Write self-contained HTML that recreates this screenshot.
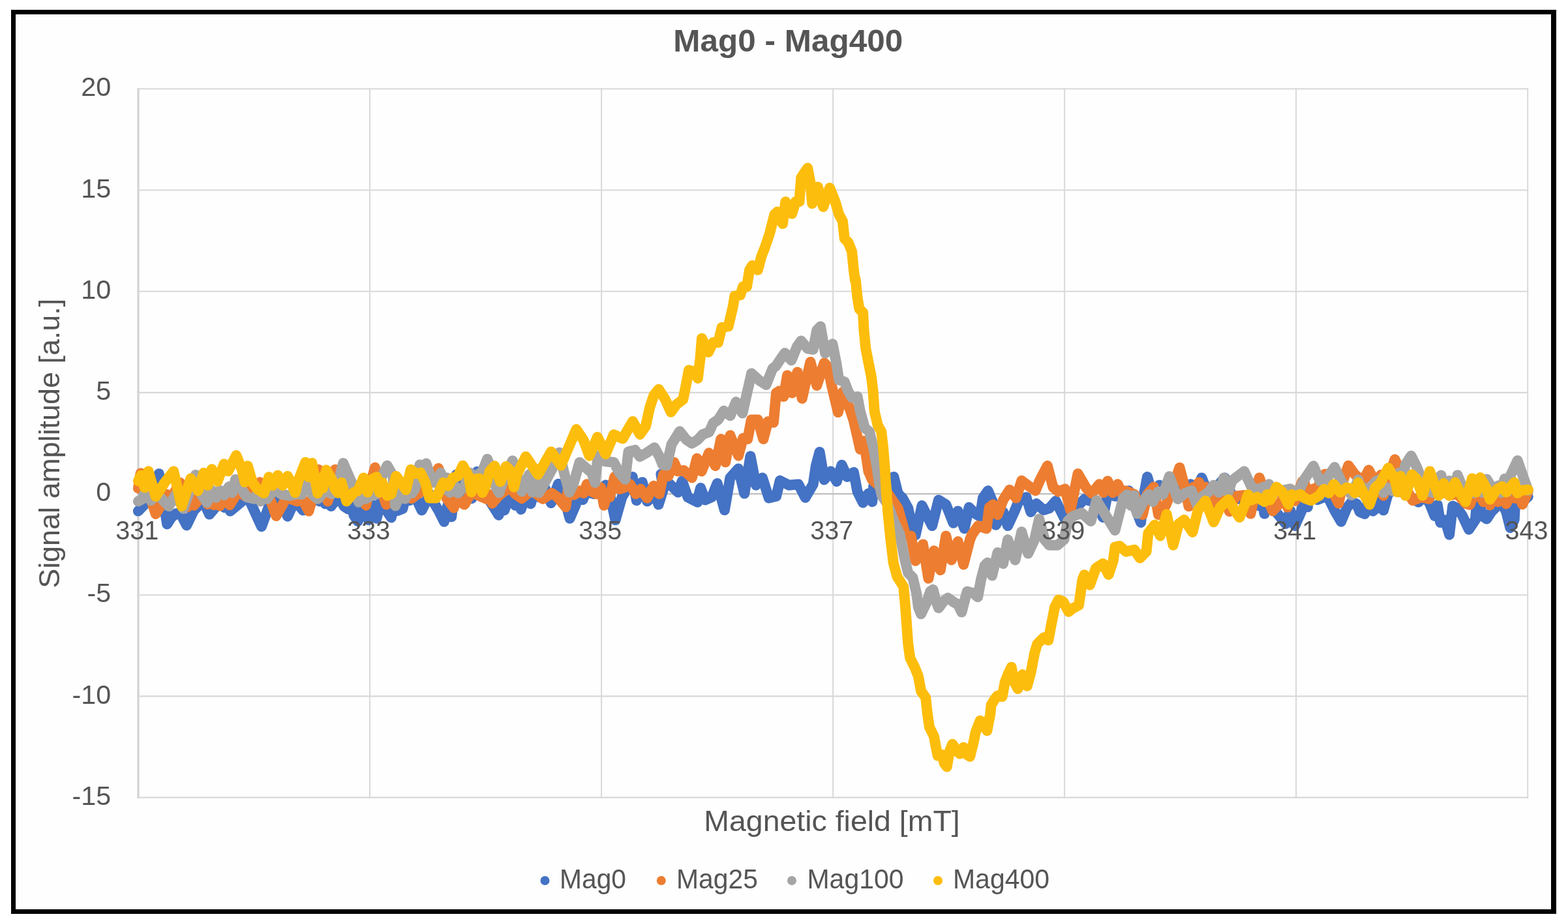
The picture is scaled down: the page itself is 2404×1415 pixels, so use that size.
<!DOCTYPE html>
<html lang="en"><head><meta charset="utf-8"><title>Mag0 - Mag400</title>
<style>html,body{margin:0;padding:0;background:#fff;}body{width:2404px;height:1415px;overflow:hidden;}svg{display:block;}text{font-family:"Liberation Sans",sans-serif;fill:#555555;}</style>
</head><body>
<svg width="2404" height="1415" viewBox="0 0 2404 1415">
<rect x="0" y="0" width="2404" height="1415" fill="#fff"/>
<rect x="17" y="15" width="2369" height="1386" fill="#000"/>
<rect x="24" y="22" width="2354" height="1372" fill="#fefefe"/>
<g><line x1="212.0" y1="135" x2="212.0" y2="1224" stroke="#D2D2D2" stroke-width="3.2"/><line x1="567.0" y1="135" x2="567.0" y2="1224" stroke="#D9D9D9" stroke-width="2.0"/><line x1="922.1" y1="135" x2="922.1" y2="1224" stroke="#D9D9D9" stroke-width="2.0"/><line x1="1277.1" y1="135" x2="1277.1" y2="1224" stroke="#D9D9D9" stroke-width="2.0"/><line x1="1632.1" y1="135" x2="1632.1" y2="1224" stroke="#D9D9D9" stroke-width="2.0"/><line x1="1987.1" y1="135" x2="1987.1" y2="1224" stroke="#D9D9D9" stroke-width="2.0"/><line x1="2342.2" y1="135" x2="2342.2" y2="1224" stroke="#D9D9D9" stroke-width="2.0"/><line x1="210" y1="136.3" x2="2343.2" y2="136.3" stroke="#D8D8D8" stroke-width="2.1"/><line x1="210" y1="291.5" x2="2343.2" y2="291.5" stroke="#D8D8D8" stroke-width="2.1"/><line x1="210" y1="446.7" x2="2343.2" y2="446.7" stroke="#D8D8D8" stroke-width="2.1"/><line x1="210" y1="601.9" x2="2343.2" y2="601.9" stroke="#D8D8D8" stroke-width="2.1"/><line x1="210" y1="757.1" x2="2343.2" y2="757.1" stroke="#BFBFBF" stroke-width="2.1"/><line x1="210" y1="912.2" x2="2343.2" y2="912.2" stroke="#D8D8D8" stroke-width="2.1"/><line x1="210" y1="1067.4" x2="2343.2" y2="1067.4" stroke="#D8D8D8" stroke-width="2.1"/><line x1="210" y1="1222.6" x2="2343.2" y2="1222.6" stroke="#D8D8D8" stroke-width="2.1"/></g>
<polyline points="211.9,783.6 225,769.8 243.7,726.2 256.2,803.5 262.4,793.5 269.9,787.3 276.1,786.1 286.1,805.4 297.3,782.3 304.8,774.8 312.3,769.8 321.1,788.6 334.8,772.3 339.3,758.8 343.9,778 348.4,759.4 352.9,783.6 371,768.6 376,757.9 381,763.6 400.9,807.3 414.7,769.8 421.5,757.9 428.4,762.3 440.9,791.7 452.1,767.3 464.6,782.3 480.8,767.3 485.4,758.1 490,768.6 494.4,758.3 498.8,772.4 503.1,758.7 507.5,776.1 518.7,761.1 527.4,776.1 533.7,780.4 538,763.1 542.4,789.8 548.7,799.2 556.8,776.2 564.9,797.3 571.1,774 577.4,794.8 583.6,769.8 589.8,778.6 599.8,793.5 604.8,766.2 609.8,782.9 617.3,779.8 622.3,758.7 627.3,767.3 632.3,764.8 637.3,762.3 646.6,782.3 654.7,766.1 659.7,758.1 664.7,769.8 672.2,782.3 680.9,799.8 686.5,774 692.2,792.3 699.7,727.4 709.6,757.4 716.5,760.8 723.4,764.2 731.5,723 739.6,747.4 752.1,769.8 764.6,789.8 769,764 773.3,782.3 778.3,768.6 784.5,764.8 790,774.8 794.4,759.1 798.7,781 806.2,759 813.7,772.3 817.4,758.6 822.4,760.5 827.4,762.3 831.8,756 836.2,749.8 844.9,771.1 856.1,741.7 864.9,762.3 873.6,794.8 882.3,774.8 886.1,762.3 893.6,766.1 898.6,753.6 904.8,755.5 911,757.3 915.4,753.5 919.8,749.8 924.1,756 928.5,743.6 936,762.3 943.5,797.3 953.5,762.3 961,749.8 969.7,731.1 975.9,767.3 984.7,739.2 992.2,768.6 999.6,762.3 1004.6,758.1 1009.6,773.5 1017.1,749.8 1013.4,726.8 1024.6,739.9 1039.6,754.8 1045.8,737.4 1054.6,762.3 1069.5,769.8 1068.5,769.3 1074.1,748.1 1081.2,766.5 1091.1,762.2 1099.6,741 1110.9,782 1119.4,732.5 1132.1,718.4 1141.3,756.6 1150.5,699.3 1159,743.8 1168.9,732.5 1178.8,763.6 1190.1,760.8 1195.8,736.8 1209.9,743.8 1224.1,742.4 1234.7,762.9 1246.7,742.4 1250.9,714.1 1256.6,692.9 1263.7,735.4 1273.6,722.6 1282.8,738.2 1290.5,712.7 1299,731.1 1308.9,724 1314.6,753.7 1323.1,770.7 1331.5,756.6 1337.2,769.3 1339.3,745.3 1370.4,731.1 1376.8,756.6 1383.8,763.6 1392.3,779.2 1398,806.1 1403.6,820.2 1413.5,775 1429.1,806.1 1439,766.5 1450.3,773.5 1461.6,801.8 1468.7,783.4 1478.6,810.3 1485.7,777.8 1495.6,787.7 1502.6,791.9 1506.9,763.6 1514.7,752.3 1522.4,770.7 1526.7,804.7 1538,784.9 1545.1,806.1 1555,784.9 1562,767.9 1573.4,762.2 1580.4,784.9 1588.9,772.1 1600.2,782 1608.7,779.2 1618.6,767.9 1627.1,784.9 1634.2,799 1644.1,784.9 1662.5,765.1 1680,770.7 1691.1,793.2 1698.2,756.5 1703.8,758.6 1709.5,760.7 1715.2,760.7 1720.8,760.7 1725.8,756.5 1730.7,752.2 1739.2,774.9 1749.1,801 1753.3,760.7 1759,731 1767.5,760.7 1777.4,743.7 1787.3,760.7 1794.3,757.2 1801.4,753.6 1805.7,750.1 1809.9,746.6 1818.4,760.7 1825.5,742.3 1829.8,756.1 1834,753.6 1842.4,732.4 1850.9,753.6 1858,750.1 1865.1,746.6 1877.8,732.4 1889.1,760.7 1894.8,762.9 1900.4,765 1907.5,762.9 1914.6,760.7 1928.7,774.9 1933.7,759.4 1938.6,787.6 1943.5,759.4 1948.5,774.9 1959.8,789 1971.1,803.1 1978.2,782.5 1985.3,806 1994.9,784.8 1999.9,759.4 2004.9,777.3 2006.2,754.8 2013.1,760.5 2019.9,766.1 2027.4,763 2034.9,759.8 2047.4,784.8 2056.1,799.8 2064.8,778.6 2072.3,769.8 2079.8,772.3 2084.8,784.8 2092.3,787.9 2098.6,763.7 2104.8,783.5 2112.3,777.3 2116.7,759.3 2121,782.3 2127.2,759.8 2134.7,747.4 2140.9,750.5 2147.2,753.6 2153.4,756.7 2159.7,759.8 2167.2,764.8 2174.7,769.8 2179.6,764.8 2184.6,759.8 2192.1,772.3 2199.6,791 2203.9,774 2208.3,801 2215.8,797.3 2222.1,819.7 2227.2,775.7 2234.6,779.4 2242.1,790.6 2252,811.7 2262,796.8 2263.2,781.9 2267.6,764.2 2271.9,790.6 2279.4,795.6 2286.8,784.4 2294.3,776.9 2298.7,758.7 2303,771.9 2309.2,784.4 2315.5,809.2 2321.7,796.8 2322.9,774.4 2328.5,758.5 2334.1,769.4 2338.4,765.4 2342.8,761.4" fill="none" stroke="#4472C4" stroke-width="16" stroke-linejoin="round" stroke-linecap="round"/>
<polyline points="211.9,748.6 215.6,725.5 225,744.9 238.7,787.9 249.9,769.8 256.1,758 262.4,763.6 276.1,739.9 287.4,777.3 292.4,758.9 297.3,774.8 304.8,766.1 311.7,758.3 318.6,773 323.3,758.7 328,774.2 332.6,758.8 337.3,775.5 344.8,758.8 352.3,774.2 366,751.7 370.4,755.8 374.7,759.9 379.7,755.5 384.7,751.1 391.5,755.8 398.4,739.3 412.2,759.9 423.4,791.1 439.6,762.3 447.7,765.5 455.8,768.6 460.2,758.1 464.6,767.3 473.3,783.6 480.8,757.4 488.3,719.9 495,747.4 502.5,768.6 508.7,744.9 513.7,719.9 520,747.4 527.4,757.4 532.4,756.1 537.4,754.9 542.4,750.5 547.4,746.1 554.9,764.8 561.1,774.8 567.4,744.9 574.9,716.8 582.3,744.9 592.3,773.6 602.3,757.4 607.3,754.2 612.3,751.1 617.3,756.1 622.3,761.1 626.6,762.7 631,764.2 635.4,760.8 639.8,757.4 646,753.6 652.2,749.9 662.2,734.9 672.2,718 679.7,744.9 684.7,763.6 695.9,778.6 700.3,758.7 704.7,768.6 712.1,773.6 719.6,759.9 727.1,756.7 732.1,758.9 737.1,761.1 741.5,763 745.8,764.8 750.2,758.1 754.6,771.7 759.6,765.8 764.6,759.9 769.5,756.1 774.5,752.4 782,747.4 786,752.3 790,757.3 795,760.8 800,764.2 806.2,758.9 812.4,753.6 816.8,754.9 821.2,756.1 826.8,760.5 832.4,764.8 839.2,760.5 846.1,756.1 850.5,759.2 854.9,762.3 867.4,777.3 871.1,748.6 875.5,753.6 879.8,758.6 884.8,755.5 889.8,752.3 894.8,756 899.8,742.3 907.3,753.6 914.8,757.3 921,747.3 926,774.8 930.4,758.2 934.7,762.3 942.2,731.1 949.7,749.8 957.2,747.3 965.9,742.3 974.7,757.3 982.2,749.8 992.2,763.6 1002.1,744.8 1010.9,757.3 1017.1,727.4 1024.6,729.9 1033.3,708.7 1039.6,722.4 1048.3,721.1 1060.8,732.4 1068.5,702.8 1075.6,722.6 1086.9,694.4 1096.8,714.2 1105.3,673.1 1112.3,708.5 1119.4,667.5 1132.1,698.6 1139.2,671.7 1146.3,673.1 1151.9,643.4 1161.8,643.4 1170.3,673.1 1177.4,646.3 1185.9,647.7 1190.1,602.4 1194.4,599.6 1201.4,608.1 1207.1,575.4 1214.2,602.4 1222.6,570.4 1229.7,610.9 1242.4,554.9 1252.3,591.1 1263.7,556.3 1269.3,562.6 1275,590.9 1284.9,632.1 1291.9,601 1303.3,627.9 1308.9,644.9 1318.8,688.7 1324.5,676 1331.5,722.6 1337.2,735.4 1361.2,756.6 1376.8,779.2 1382.4,799 1388.1,820.2 1396.6,821.6 1403.6,859.8 1415,834.4 1423.4,886.7 1431.9,844.3 1441.8,874 1450.3,821.6 1458.8,858.4 1468.7,830.1 1477.2,865.5 1487.1,827.3 1489.9,820.2 1499.8,806.1 1512.5,810.3 1516.8,777.8 1522.4,773.5 1529.5,789.1 1538,766.5 1547.9,750.9 1557.8,763.6 1566.3,736.8 1577.6,745.3 1587.5,752.3 1594.6,735.4 1605.9,714.1 1614.4,746.7 1622.9,753.7 1632.8,749.5 1641.2,782 1652.6,726.2 1665.3,748.1 1669.5,752.4 1673.8,756.6 1685.5,742.3 1691.8,755.3 1698.2,737.4 1706,755.3 1713.7,742.3 1719.4,756 1725.1,752.2 1732.2,755 1739.2,757.9 1747.7,774.9 1751.9,789 1759,757.9 1764,752.2 1768.9,746.6 1776,789 1787.3,774.9 1795.8,753.6 1808.5,716.9 1815.6,743.7 1822.6,776.3 1829.7,746.6 1834,755.6 1838.2,739.5 1843.2,755.6 1848.1,746.6 1858,763.5 1865.1,774.9 1872.1,755.1 1884.9,784.1 1893.4,760.7 1900.5,760 1907.5,759.3 1917.4,787.6 1924.5,753.6 1930.8,732.4 1938.6,753.6 1951.3,783.3 1964.1,769.2 1969,758.6 1974,777.7 1979.7,758.6 1985.3,767.8 1996.6,738.1 1999.9,739.9 2004.9,755.9 2009.9,751.1 2014.9,749.2 2019.9,747.4 2031.1,726.8 2039.9,747.4 2052.3,771.7 2059.8,734.9 2067.3,713.7 2077.3,727.4 2083.5,732.4 2089.8,737.4 2098.5,720.5 2107.3,737.4 2112.2,754.6 2117.2,728 2121,759.8 2128.5,734.9 2138.5,704.3 2147.2,722.4 2154.7,747.4 2165.9,767.3 2172.2,764.8 2178.4,762.3 2184.7,763.5 2190.9,764.8 2199.6,747.4 2204.6,755.7 2209.6,741.1 2215.8,756 2222.1,753.6 2222.2,759.5 2228.4,758.2 2234.6,757 2247.1,771.9 2253.3,773.8 2259.5,759.5 2265.7,753.3 2274.4,769.4 2279.4,758.5 2284.4,774.4 2290.6,758.5 2296.8,769.4 2303,758.4 2309.2,772.5 2316.1,758.1 2322.9,763.8 2328.5,758.1 2334.1,773.2 2342.8,753.3" fill="none" stroke="#ED7D31" stroke-width="16" stroke-linejoin="round" stroke-linecap="round"/>
<polyline points="211.9,768.6 218.7,764.8 223.7,749.9 231.2,767.3 236.2,762.3 241.2,757.4 258.7,776.1 269.9,757.4 281.1,779.8 299.8,728 308.6,757.4 317.3,770.5 324.8,751.7 331,763 337.3,751.7 343.5,759.2 351,746.1 356,755.4 361,734.9 368.5,747.4 378.5,762.3 384.1,763.5 389.7,764.8 394.7,758 399.7,768.6 404.7,758 409.7,764.8 419.6,749.9 425.2,753.6 430.9,757.4 437.1,758.6 443.4,759.9 449.6,758.6 455.8,757.4 462.1,758 470.8,734.9 478.3,757.4 482.6,761.1 487,764.8 490,762.3 497.5,751.1 503.1,754.2 508.7,757.4 513.1,751.1 517.5,744.9 526.2,709.9 534.9,729.9 543.7,749.9 549.9,769.8 554.9,758 559.9,764.8 564.9,762.3 569.9,759.9 577.4,757.4 584.8,732.4 593.6,713.7 602.3,728.7 606.1,775.5 613.5,758.3 621,764.8 627.3,744.9 631.6,756 636,749.9 643.5,712.4 648.5,733.5 653.5,710.6 662.2,737.4 667.2,739.9 675.9,724.9 680.3,750.6 684.7,732.4 689.7,754.9 694.7,739.9 702.2,756.1 707.2,750.5 712.1,744.9 720.9,724.9 727.1,748.1 733.4,727.4 739.6,722.4 747.1,703.7 754.6,722.4 759.6,744.9 765.2,755.5 770.8,739.9 778.3,722.4 785.8,706.2 792.5,724.9 800,753.6 811.2,727.4 816.2,754.4 821.2,737.4 826.2,755.5 831.2,747.3 839.9,731.1 847.4,717.4 857.4,693.7 866.1,729.9 873,754.8 879.8,739.9 888.6,708.7 898.6,717.4 907.3,724.9 912.3,739.9 916.7,698.7 927.3,707.4 941,708.7 949.7,724.9 958.5,734.9 963.5,692.4 973.4,689.9 980.9,699.9 992.2,693.7 1003.4,686.2 1010.9,699.9 1015.9,712.4 1022.1,713.6 1029.6,681.2 1042.1,661.2 1052.3,674.1 1060.8,679.7 1069.8,674.1 1077.3,666 1087.3,662.2 1093.5,648.5 1101,643.5 1109.7,629.8 1119.7,637.3 1128.4,616.1 1138.4,633.5 1145.9,599.8 1152.2,572.4 1164.6,583.6 1174.6,589.9 1184.6,564.9 1189.6,561.2 1197.1,549.9 1203.3,541.2 1213.3,552.4 1222,531.2 1228.3,522.5 1238.2,534.4 1246.7,535.8 1252.3,506.1 1258,500.4 1265.1,541.4 1276.4,527.3 1282,555.6 1286.3,582.4 1294.8,585.3 1300.4,600 1306.1,609.5 1314.6,608.1 1318.8,630.7 1325.9,656.2 1333,661.8 1339.3,687.3 1344.3,715.6 1348.5,743.9 1352.1,760 1361.2,773.5 1370.4,799 1379.6,818.8 1386.7,855.6 1392.3,878.4 1399.4,885.5 1405.1,909.5 1407.9,930.7 1412.1,941.3 1420.6,923.6 1426.3,906.7 1430.5,903.8 1434.8,920.8 1439,932.1 1447.5,920.8 1453.1,916.6 1463,923.6 1468.7,926.5 1474.4,938.5 1480,916.6 1482.8,906.7 1492.7,909.5 1499.1,915.2 1504.1,888.3 1509.7,867.1 1514,862.6 1521,882.4 1529.5,847.1 1538,864.1 1545.1,827.3 1556.4,858.4 1566.3,815.3 1576.2,848.5 1586.1,827.3 1593.2,795.5 1601.6,827.3 1608.7,835.8 1621.4,835.8 1631.3,827.3 1637,799 1644.1,791.9 1658.2,786.3 1672.4,799 1681.2,767.1 1709.5,813 1722.2,763.5 1727.8,758.2 1733.5,774.9 1738.5,759.4 1743.4,787.6 1756.2,763.5 1761.8,757.9 1767.5,769.2 1776,753.6 1783,757.9 1792.9,730.3 1805.7,765 1810.7,760.8 1815.6,756.5 1821.2,754.4 1826.9,752.2 1835.4,774.9 1843.9,760.7 1848.8,757.2 1853.8,753.6 1860.8,743.7 1868.6,755.1 1876.4,732.4 1882.8,754.8 1889.1,736.7 1907.5,722.5 1918.8,746.6 1923.8,748.7 1928.7,750.8 1933,748.7 1937.2,746.5 1941.5,755.7 1945.7,742.3 1951.3,756.1 1957,753.6 1962.3,752.5 1967.6,751.5 1972.9,750.5 1978.2,749.4 1983.8,753 1989.5,756.5 1999.9,734.9 2013.7,714.3 2023.6,737.4 2029.9,739.9 2046.1,716.2 2056.1,737.4 2072.3,759.2 2082.3,735.5 2086.7,755.4 2091,747.4 2098.5,751.1 2109.8,737.4 2116,734.9 2121,755.4 2126,747.4 2131,750.2 2136,753 2144.7,724.9 2149.7,740.6 2154.7,712.4 2163.4,698.7 2172.2,716.2 2179.6,734.9 2185.2,755.4 2190.9,747.4 2196.5,755.4 2202.1,734.9 2209.6,728.6 2214.6,754.7 2219.6,739.9 2222.2,737.1 2228.4,754.6 2234.6,728.4 2242.1,747.1 2247.7,748.3 2253.3,749.5 2259.5,755.8 2265.7,740.8 2272.6,755.1 2279.4,734.6 2290.6,753.3 2296.8,744.6 2301.8,755.2 2306.7,734 2311.1,753.8 2315.5,729.6 2326.6,706 2336.6,734.6 2342.8,752" fill="none" stroke="#A5A5A5" stroke-width="16" stroke-linejoin="round" stroke-linecap="round"/>
<polyline points="211.9,737.4 216.2,728.7 221.8,747.5 227.5,722.4 238.7,761.1 252.4,739.9 266.1,722.4 278.6,776.1 292.3,733.6 303.6,752.4 312.3,724.9 318.6,744.1 324.8,719.3 333.5,738 343.5,711.2 349.8,722.4 362.2,698.1 371,719.9 375.4,739.1 379.7,714.3 387.2,739.9 394.7,749.9 399.7,753 404.7,756.1 412.2,731.2 417.8,744.3 425.9,728.7 433.4,744.3 440.9,729.9 448.3,744.9 452.7,755.4 457.1,737.4 468.3,708.7 473.3,731.3 478.3,709.9 487,756.1 490,732.4 495,748.5 500,720.5 508.7,734.9 513.7,749.9 518.7,755.8 523.7,739.9 531.2,768.6 542.4,754.9 548.7,752.4 557.4,732.4 563.6,754.7 569.9,734.9 577.4,731.2 581.8,754.9 586.1,739.9 593.6,759.9 599.8,757.4 607.3,729.9 614.8,739.9 622.3,751.1 629.8,719.9 637.3,726.2 644.7,724.9 652.2,739.9 658.5,763.6 663.5,763.6 668.5,763.6 679.7,739.9 687.2,744.9 694.7,732.4 702.2,729.9 709.6,713.7 718.4,729.9 722.8,754.4 727.1,734.9 734.6,733.6 739.6,755.2 744.6,744.9 750.8,722.4 758.3,714.3 767,738.6 775.8,714.9 783.3,722.4 787.9,746.9 792.5,727.4 806.2,699.9 824.9,727.4 844.9,692.4 859.9,713.6 883.6,658.1 894.8,675 903.5,698.7 916,670 928.5,696.2 941,666.2 954.7,672.5 964.7,655 970,646 981.2,666 989.9,653.5 996.2,624.8 1002.4,606.1 1009.9,596.7 1019.9,612.3 1028.6,631.7 1037.3,619.8 1047.3,612.3 1052.3,587.4 1056.1,567.4 1064.8,569.9 1069.8,579.9 1073.5,549.9 1076,518.7 1086,539.9 1093.5,525 1101,525 1106.7,501.8 1116.6,500.4 1123.6,470.7 1126.5,453.7 1135,452.3 1139.2,439.6 1144.9,439.6 1149.1,414.1 1153.3,407.1 1161.8,413.9 1167.5,392.6 1173.1,378.5 1180.2,357.3 1187.3,329 1191.5,324.8 1200,343.1 1204.3,309.2 1214.2,327.6 1219.8,309.2 1225.5,309.2 1228.3,272.4 1238.2,257.6 1242.4,279.5 1245.3,312 1253.8,286.6 1262.2,317 1272.1,288 1280.6,309.2 1286.3,329 1291.9,338.9 1294.8,365.8 1300.4,371.4 1306.1,385.6 1308.9,413.9 1311,430 1311.7,428.3 1314.6,456.6 1317.4,473.5 1323.1,479.2 1324.5,506.1 1327.3,534.4 1331.5,555.6 1335.8,576.8 1338.6,600 1340.7,630.7 1345.7,651.9 1351.3,661.8 1354.2,687.3 1357,722.6 1359.1,760 1358.4,742.4 1361.2,784.9 1365.5,827.3 1369.7,862.6 1375.4,883.9 1385.3,899.6 1388.1,930.7 1390.2,959 1392.3,987.3 1395.2,1008.5 1402.2,1022.6 1407.9,1036.8 1412.1,1059.5 1419.2,1069.4 1422,1094.9 1424.9,1114.7 1431.9,1128.8 1434.8,1144.4 1437.6,1158.5 1444.7,1157.1 1447.5,1169.8 1451.7,1175.5 1456,1151.4 1460.2,1140.8 1467.3,1151.4 1471.5,1155.7 1477.2,1145.8 1482.8,1157.1 1487.1,1159.9 1492.7,1137.3 1495.6,1123.1 1502.6,1104.8 1508.3,1109 1513.3,1120.3 1518.2,1094.9 1519.6,1080.7 1526.7,1069.4 1529.5,1066.6 1536.6,1068 1540.8,1045.4 1546.5,1031.2 1550.7,1022.7 1555,1045.4 1560.6,1056 1567.7,1034 1574.8,1051.7 1580.4,1031.2 1586.1,1001.4 1590.3,987.3 1600.2,977.4 1607.3,981.6 1611.5,959 1617.2,930.7 1622.9,919.4 1629.9,922.2 1638.4,937.8 1645.5,932.1 1654,927.9 1659.6,888.3 1662.5,881.2 1670.9,896.8 1680,871.3 1691.1,864 1699.6,880.9 1706.7,859.7 1709.5,838.5 1716.6,837.1 1726.5,845.6 1739.2,842.7 1747.7,855.5 1757.6,845.6 1760.4,817.3 1770.3,804.6 1778.8,821.5 1788.7,788.3 1798.6,835.7 1807.1,803.1 1815.6,796.8 1828.3,815.9 1836.8,781.9 1848.1,767.8 1860.8,800.3 1870.7,777.7 1883.5,765.7 1891.9,780.5 1900.4,793.2 1908.9,772 1913.5,758.3 1918.1,767 1922.7,764.6 1927.3,762.1 1932.9,765.7 1938.6,769.2 1942.8,758.1 1947.1,766.4 1957,746.6 1961.2,750.1 1965.5,753.6 1975.4,773.4 1980.3,758 1985.3,760.7 1989.5,759.3 1993.8,757.9 1999.9,763.6 2004.9,765.5 2009.9,767.3 2016.2,763.5 2022.4,759.8 2029.9,749.9 2037.4,755.9 2044.9,742.4 2049.9,748.6 2054.8,754.8 2059.8,751.1 2064.8,747.4 2072.3,749.9 2077.3,755.8 2082.3,739.9 2092.3,759.8 2099.8,773.6 2108.5,747.4 2116,741.1 2128.5,717.4 2138.5,734.9 2142.8,754.4 2147.2,729.9 2154.7,759.8 2164.7,727.4 2172.2,734.9 2180.9,759.8 2192.1,722.4 2200.9,747.4 2205.9,759.8 2213.3,741.1 2222.1,759.8 2222.2,747.1 2226.6,755.6 2230.9,739.6 2240.8,759.5 2247.1,769.4 2257,733.4 2263.2,754.6 2269.4,732.1 2278.1,747.1 2284.4,765.7 2294.3,750.8 2298.7,748.3 2303,745.8 2309.2,754.5 2321.7,739.6 2326.6,755.9 2331.6,752 2337.2,751.4 2342.8,750.8" fill="none" stroke="#FDBD0C" stroke-width="16" stroke-linejoin="round" stroke-linecap="round"/>
<text x="1208.3" y="79.3" font-size="49" font-weight="bold" text-anchor="middle" textLength="352" lengthAdjust="spacingAndGlyphs">Mag0 - Mag400</text>
<text x="170.2" y="147.4" font-size="41" text-anchor="end" textLength="46" lengthAdjust="spacingAndGlyphs">20</text>
<text x="170.2" y="302.6" font-size="41" text-anchor="end" textLength="46" lengthAdjust="spacingAndGlyphs">15</text>
<text x="170.2" y="457.8" font-size="41" text-anchor="end" textLength="46" lengthAdjust="spacingAndGlyphs">10</text>
<text x="170.2" y="613.0" font-size="41" text-anchor="end" textLength="23" lengthAdjust="spacingAndGlyphs">5</text>
<text x="170.2" y="768.2" font-size="41" text-anchor="end" textLength="23" lengthAdjust="spacingAndGlyphs">0</text>
<text x="170.2" y="923.4" font-size="41" text-anchor="end" textLength="36.6" lengthAdjust="spacingAndGlyphs">-5</text>
<text x="170.2" y="1078.5" font-size="41" text-anchor="end" textLength="59.6" lengthAdjust="spacingAndGlyphs">-10</text>
<text x="170.2" y="1233.7" font-size="41" text-anchor="end" textLength="59.6" lengthAdjust="spacingAndGlyphs">-15</text>
<text x="210.2" y="826.6" font-size="40.5" text-anchor="middle" textLength="66" lengthAdjust="spacingAndGlyphs">331</text>
<text x="565.2" y="826.6" font-size="40.5" text-anchor="middle" textLength="66" lengthAdjust="spacingAndGlyphs">333</text>
<text x="920.3" y="826.6" font-size="40.5" text-anchor="middle" textLength="66" lengthAdjust="spacingAndGlyphs">335</text>
<text x="1275.3" y="826.6" font-size="40.5" text-anchor="middle" textLength="66" lengthAdjust="spacingAndGlyphs">337</text>
<text x="1630.3" y="826.6" font-size="40.5" text-anchor="middle" textLength="66" lengthAdjust="spacingAndGlyphs">339</text>
<text x="1985.3" y="826.6" font-size="40.5" text-anchor="middle" textLength="66" lengthAdjust="spacingAndGlyphs">341</text>
<text x="2340.4" y="826.6" font-size="40.5" text-anchor="middle" textLength="66" lengthAdjust="spacingAndGlyphs">343</text>
<text x="1275.5" y="1273.6" font-size="45" text-anchor="middle" textLength="392.5" lengthAdjust="spacingAndGlyphs">Magnetic field [mT]</text>
<text transform="translate(90.5 679.8) rotate(-90)" x="0" y="0" font-size="44.5" text-anchor="middle" textLength="444" lengthAdjust="spacingAndGlyphs">Signal amplitude [a.u.]</text>
<circle cx="835.5" cy="1350" r="7" fill="#4472C4"/>
<text x="858" y="1362.3" font-size="42.5" textLength="102" lengthAdjust="spacingAndGlyphs">Mag0</text>
<circle cx="1013.8" cy="1350" r="7" fill="#ED7D31"/>
<text x="1037" y="1362.3" font-size="42.5" textLength="125" lengthAdjust="spacingAndGlyphs">Mag25</text>
<circle cx="1214" cy="1350" r="7" fill="#A5A5A5"/>
<text x="1237.5" y="1362.3" font-size="42.5" textLength="148" lengthAdjust="spacingAndGlyphs">Mag100</text>
<circle cx="1438" cy="1350" r="7" fill="#FDBD0C"/>
<text x="1461" y="1362.3" font-size="42.5" textLength="148" lengthAdjust="spacingAndGlyphs">Mag400</text>
</svg>
</body></html>
